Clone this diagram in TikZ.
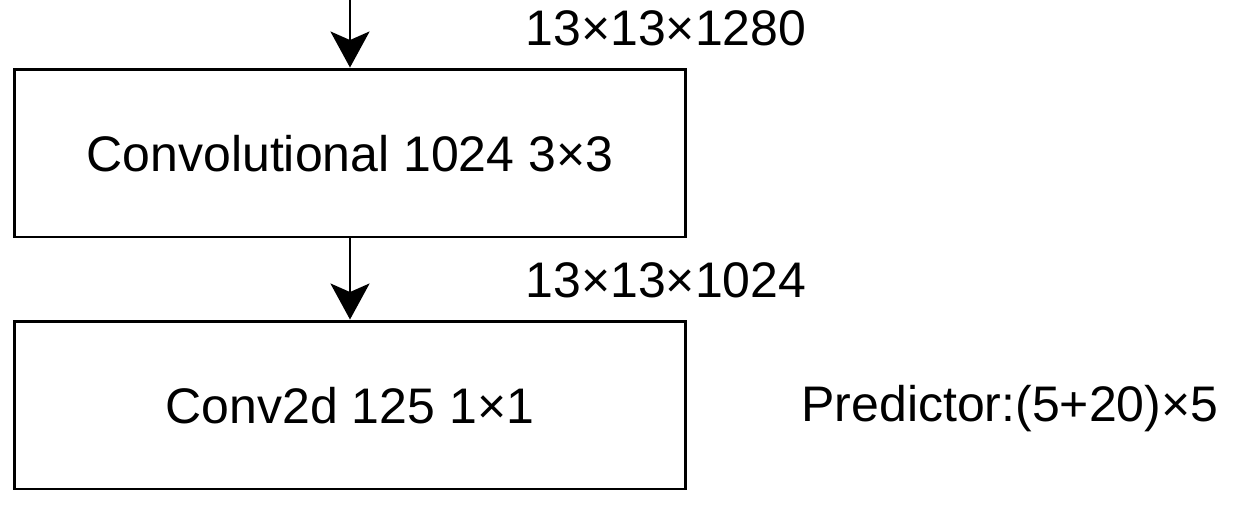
\documentclass[tikz,border=0pt]{standalone}
\usepackage{fontspec}
\setmainfont{Liberation Sans}
\usetikzlibrary{arrows.meta,positioning}

\tikzset{
  layer/.style={draw, line width=1.7pt, minimum width=13.44cm, minimum height=3.36cm,
    text height=20.5pt, text depth=0pt, inner sep=0pt},
  flow/.style={line width=1.7pt, -{Stealth[length=0.72cm,width=0.78cm,inset=0.17cm]}},
  dimlabel/.style={anchor=base, inner sep=0pt}
}

\begin{document}
\begin{tikzpicture}[x=0.02cm,y=-0.02cm,font=\fontsize{28.45pt}{34pt}\selectfont]
    \useasboundingbox (0,0) rectangle (1242,512);

    \coordinate (in) at (350,0);
    \node[layer] (conv) at (350,153) {Convolutional 1024 3×3};
    \node[layer] (head) at (350,405) {Conv2d 125 1×1};

    \draw[flow] (in) -- (conv.north);
    \draw[flow] (conv.south) -- (head.north);

    \node[dimlabel] (dimin) at (666,45) {13×13×1280};
    \node[dimlabel] (dimout) at (666,297) {13×13×1024};
    \node[dimlabel] (pred) at (1010,421) {Predictor:(5+20)×5};

\end{tikzpicture}
\end{document}
